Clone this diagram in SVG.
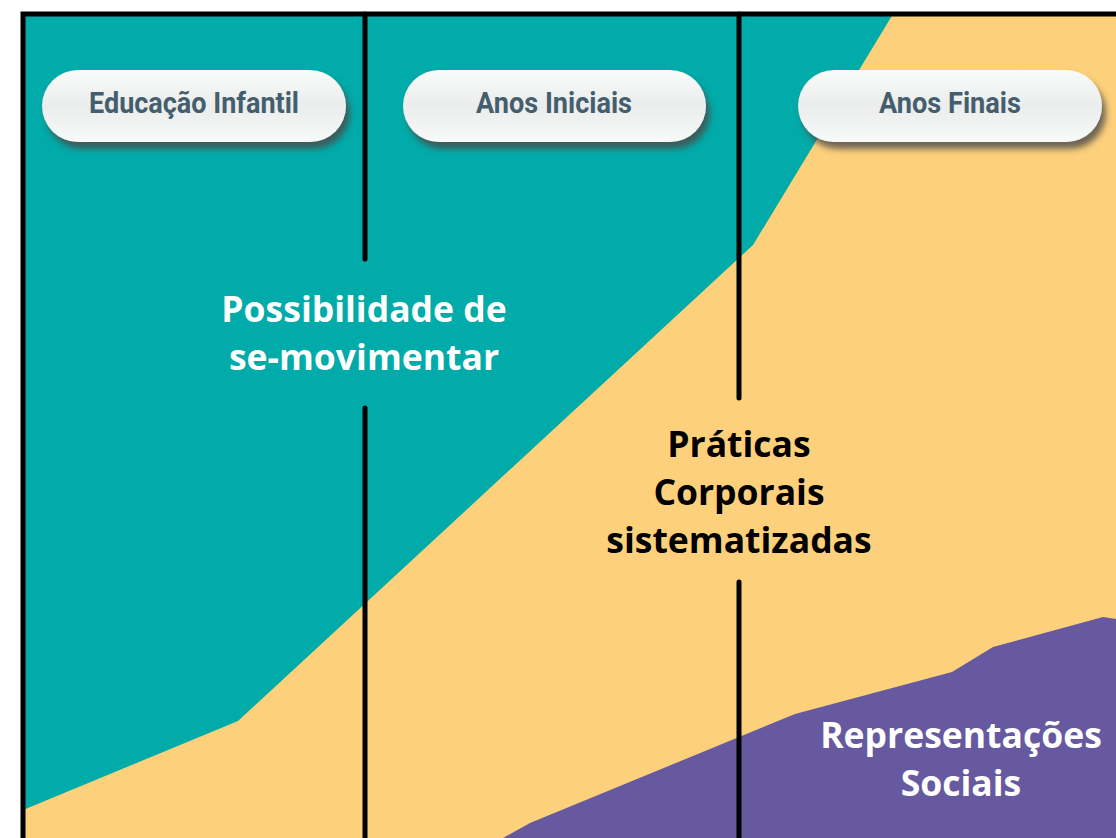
<svg xmlns="http://www.w3.org/2000/svg" width="1116" height="838" viewBox="0 0 1116 838">
<style>
.pill{fill:url(#pillGrad);filter:url(#shadow)}
.pillText{font-family:Roboto,"Liberation Sans",sans-serif;font-weight:bold;font-size:29px;fill:#455e6d;text-anchor:middle}
.big{font-family:"Open Sans","Noto Sans",sans-serif;font-weight:bold;font-size:35.5px;text-anchor:middle}
.divider{stroke:#000;stroke-width:5;stroke-linecap:round;fill:none}
</style>
<defs>
<linearGradient id="pillGrad" x1="0" y1="0" x2="0" y2="1">
<stop offset="0" stop-color="#f9fafa"/>
<stop offset="0.5" stop-color="#ebecec"/>
<stop offset="1" stop-color="#f8f9f9"/>
</linearGradient>
<filter id="shadow" x="-10%" y="-30%" width="125%" height="170%">
<feDropShadow dx="4" dy="7" stdDeviation="3" flood-color="#4a4a4a" flood-opacity="0.8"/>
</filter>
</defs>
<rect x="0" y="0" width="1116" height="838" fill="#ffffff"/>
<g id="areas">
<rect x="23" y="14" width="1100" height="830" fill="#fdd07b"/>
<polygon points="23,14 893,14 753,245 238,721 23,810" fill="#00aba9"/>
<polygon points="503,838 530,823 795,714 952,672 993,647 1103,617 1116,619 1116,838" fill="#66599f"/>
</g>
<g id="connectors">
<line class="divider" x1="365" y1="14" x2="365" y2="259"/>
<line class="divider" x1="365" y1="408" x2="365" y2="845"/>
<line class="divider" x1="739" y1="14" x2="739" y2="398"/>
<line class="divider" x1="739" y1="582" x2="739" y2="845"/>
</g>
<rect x="23" y="14" width="1110" height="840" fill="none" stroke="#000" stroke-width="5"/>
<g id="pill-educacao-infantil">
<rect class="pill" x="42" y="70" width="304" height="72" rx="36"/>
<text class="pillText" x="194" y="113" textLength="210" lengthAdjust="spacingAndGlyphs">Educação Infantil</text>
</g>
<g id="pill-anos-iniciais">
<rect class="pill" x="403" y="70" width="303" height="72" rx="36"/>
<text class="pillText" x="554" y="113" textLength="156" lengthAdjust="spacingAndGlyphs">Anos Iniciais</text>
</g>
<g id="pill-anos-finais">
<rect class="pill" x="798" y="70" width="304" height="72" rx="36"/>
<text class="pillText" x="950" y="113" textLength="142" lengthAdjust="spacingAndGlyphs">Anos Finais</text>
</g>
<g id="label-possibilidade">
<text class="big" fill="#ffffff" x="364" y="322">Possibilidade de</text>
<text class="big" fill="#ffffff" x="364" y="370">se-movimentar</text>
</g>
<g id="label-praticas">
<text class="big" fill="#000000" x="739" y="457">Práticas</text>
<text class="big" fill="#000000" x="739" y="505">Corporais</text>
<text class="big" fill="#000000" x="739" y="553">sistematizadas</text>
</g>
<g id="label-representacoes">
<text class="big" fill="#ffffff" x="961" y="748">Representações</text>
<text class="big" fill="#ffffff" x="961" y="796">Sociais</text>
</g>
</svg>
